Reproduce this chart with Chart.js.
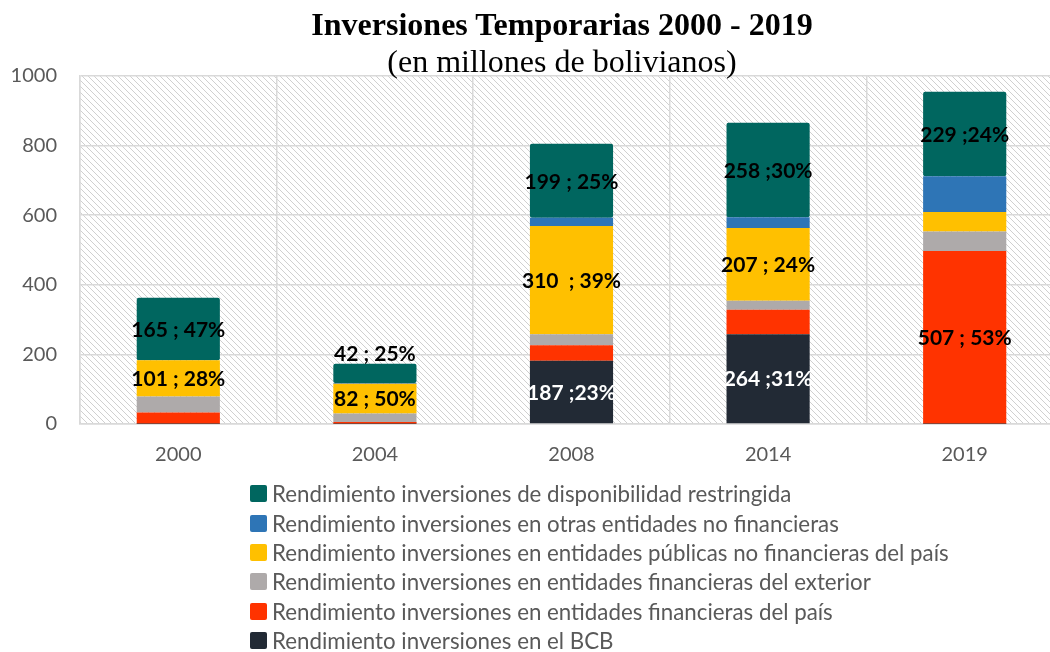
<!DOCTYPE html>
<html>
<head>
<meta charset="utf-8">
<script src="https://cdn.jsdelivr.net/npm/chart.js@4"></script>
<style>
  html, body { margin:0; padding:0; background:#fff; width:1050px; height:652px; overflow:hidden; }
  #wrap { position:absolute; left:0; top:0; width:1070px; height:652px; }
  .title { position:absolute; left:0; width:1124px; text-align:center; color:#000; font-family:"Liberation Serif","Times New Roman",serif; white-space:nowrap; }
  #t1 { top:8px; font-size:32px; line-height:32px; font-weight:bold; }
  #t2 { top:45px; font-size:32px; line-height:32px; }
  #legend { position:absolute; left:250px; top:479px; font-family:Lato, sans-serif; font-size:22.3px; color:#595959; }
  .row { display:flex; align-items:center; height:29.4px; white-space:nowrap; }
  .sw { width:17px; height:17px; border-radius:2px; margin-right:5px; flex:none; }
</style>
</head>
<body>
<div id="wrap"><canvas id="c" width="1070" height="652"></canvas></div>
<div class="title" id="t1">Inversiones Temporarias 2000 - 2019</div>
<div class="title" id="t2">(en millones de bolivianos)</div>
<div id="legend"></div>
<script>
// ---- data ----
const categories = ['2000', '2004', '2008', '2014', '2019'];
const seriesNames = [
  'Rendimiento inversiones en el BCB',
  'Rendimiento inversiones en entidades financieras del país',
  'Rendimiento inversiones en entidades financieras del exterior',
  'Rendimiento inversiones en entidades públicas no financieras del país',
  'Rendimiento inversiones en otras entidades no financieras',
  'Rendimiento inversiones de disponibilidad restringida'
];
const bcb         = [1, 1, 182, 258, 1];
const paisFin     = [32, 5, 44, 70, 496];
const exterior    = [46, 24, 32, 26, 56];
const publicas    = [104, 86, 311, 209, 56];
const otras       = [0, 2, 24, 31, 103];
const restringida = [180, 55, 212, 272, 243];

const labelsBcb         = [null, null, '187 ;23%', '264 ;31%', null];
const labelsPaisFin     = [null, null, null, null, '507 ; 53%'];
const labelsPublicas    = ['101 ; 28%', '82 ; 50%', '310  ; 39%', '207 ; 24%', null];
const labelsRestringida = ['165 ; 47%', '42 ; 25%', '199 ; 25%', '258 ;30%', '229 ;24%'];

const yMin = 0, yMax = 1000, yStep = 200;

// ---- styles ----
const colors = ['#222a35', '#ff3300', '#aeaaaa', '#ffc000', '#2e75b6', '#00665f'];
const seriesValues = [bcb, paisFin, exterior, publicas, otras, restringida];
const seriesLabels = [labelsBcb, labelsPaisFin, null, labelsPublicas, null, labelsRestringida];
const labelColors = ['#ffffff', '#000000', '#000000', '#000000', '#000000', '#000000'];

// hatch pattern for plot background
function makePattern(ctx) {
  const t = document.createElement('canvas');
  t.width = 6; t.height = 6;
  const g = t.getContext('2d');
  g.fillStyle = '#ffffff'; g.fillRect(0, 0, 6, 6);
  g.fillStyle = '#d0d0d0';
  for (let i = 0; i < 6; i++) g.fillRect(i, i, 1, 1);
  return ctx.createPattern(t, 'repeat');
}

const hatchPlugin = {
  id: 'hatch',
  beforeDraw(chart) {
    const {ctx, chartArea: a} = chart;
    ctx.save();
    ctx.fillStyle = makePattern(ctx);
    ctx.fillRect(a.left, a.top, a.right - a.left, a.bottom - a.top);
    ctx.restore();
  }
};

const labelPlugin = {
  id: 'segLabels',
  afterDatasetsDraw(chart) {
    const ctx = chart.ctx;
    ctx.save();
    ctx.font = 'bold 21px Lato, sans-serif';
    ctx.textAlign = 'center';
    chart.data.datasets.forEach((ds, di) => {
      const labs = ds.segLabels;
      if (!labs) return;
      const meta = chart.getDatasetMeta(di);
      meta.data.forEach((el, i) => {
        const txt = labs[i];
        if (!txt) return;
        const p = el.getProps(['x', 'y', 'base'], true);
        const top = Math.min(p.y, p.base), bot = Math.max(p.y, p.base);
        ctx.fillStyle = ds.labelColor;
        if (bot - top < 24) {
          ctx.textBaseline = 'bottom';
          ctx.fillText(txt, p.x, top + 1);
        } else {
          ctx.textBaseline = 'middle';
          ctx.fillText(txt, p.x, (top + bot) / 2 + 1);
        }
      });
    });
    ctx.restore();
  }
};

const datasets = seriesValues.map((vals, i) => ({
  label: seriesNames[i],
  data: vals,
  backgroundColor: colors[i],
  borderWidth: 0,
  borderRadius: 2,
  borderSkipped: false,
  segLabels: seriesLabels[i],
  labelColor: labelColors[i],
  barPercentage: 0.423,
  categoryPercentage: 1
}));

const tickFont = { family: 'Lato, sans-serif', size: 20 };

new Chart(document.getElementById('c'), {
  type: 'bar',
  data: { labels: categories, datasets },
  options: {
    responsive: false,
    animation: false,
    devicePixelRatio: 1,
    layout: { padding: { left: 0, top: 76, right: 7, bottom: 188 } },
    plugins: { legend: { display: false }, title: { display: false }, tooltip: { enabled: false } },
    scales: {
      x: {
        stacked: true,
        grid: { color: '#d9d9d9', lineWidth: 1.5, drawTicks: false, offset: true },
        border: { color: '#d9d9d9', width: 1.5 },
        ticks: { color: '#595959', font: tickFont, padding: 19 },
        afterFit(s) { s.height = 40; }
      },
      y: {
        stacked: true,
        min: yMin, max: yMax,
        grid: { color: '#d9d9d9', lineWidth: 1.5, drawTicks: false },
        border: { color: '#d9d9d9', width: 1.5 },
        ticks: { color: '#595959', font: tickFont, padding: 23, stepSize: yStep,
                 callback: (v) => String(v) },
        afterFit(s) { s.width = 80; }
      }
    }
  },
  plugins: [hatchPlugin, labelPlugin]
});

// HTML legend (top-to-bottom = reverse stacking order)
const leg = document.getElementById('legend');
for (let i = seriesNames.length - 1; i >= 0; i--) {
  const r = document.createElement('div'); r.className = 'row';
  const s = document.createElement('span'); s.className = 'sw'; s.style.background = colors[i];
  const t = document.createElement('span'); t.textContent = seriesNames[i];
  r.appendChild(s); r.appendChild(t); leg.appendChild(r);
}
</script>
</body>
</html>
